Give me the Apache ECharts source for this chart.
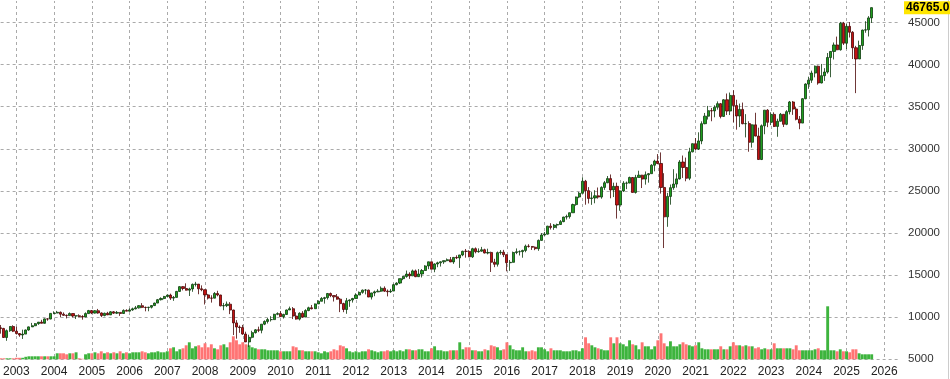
<!DOCTYPE html>
<html>
<head>
<meta charset="utf-8">
<script src="https://cdn.jsdelivr.net/npm/echarts@6/dist/echarts.min.js"></script>
<style>
html,body{margin:0;padding:0;background:#fff;}
#chart{width:950px;height:379px;}
</style>
</head>
<body>
<div id="chart"></div>
<script>
// Monthly candles [open, close, low, high]
const ohlc2002 = [[8736,8664,8044,9077],[8664,7592,7528,8734],[7592,8397,7197,8539],[8397,8896,8259,8932],[8896,8342,8232,9043]];
const ohlc2003 = [[8342,8054,7945,8869],[8054,7891,7673,8109],[7891,7992,7416,8522],[7992,8480,7992,8532],[8480,8850,8394,8898],[8850,8985,8837,9323],[8985,9234,8942,9310],[9234,9416,9094,9428],[9416,9275,9275,9686],[9275,9801,9375,9858],[9801,9782,9579,9872],[9782,10454,9754,10484]];
const ohlc2004 = [[10454,10488,10368,10702],[10488,10584,10499,10753],[10584,10358,9991,10678],[10358,10226,10152,10570],[10226,10188,9852,10318],[10188,10435,10164,10569],[10435,10140,9961,10436],[10140,10174,9784,10219],[10174,10080,9981,10342],[10080,10027,9708,10239],[10027,10428,10028,10572],[10428,10783,10401,10868]];
const ohlc2005 = [[10783,10490,10368,10854],[10490,10766,10431,10842],[10766,10504,10403,10984],[10504,10193,10012,10568],[10193,10467,10109,10542],[10467,10275,10269,10635],[10275,10641,10270,10720],[10641,10482,10397,10719],[10482,10569,10378,10739],[10569,10440,10156,10580],[10440,10806,10406,10932],[10806,10718,10713,10940]];
const ohlc2006 = [[10718,10865,10667,11047],[10865,10993,10766,11137],[10993,11109,10929,11334],[11109,11367,11030,11437],[11367,11168,11083,11670],[11168,11150,10699,11260],[11150,11186,10706,11233],[11186,11381,11036,11416],[11381,11679,11325,11725],[11679,12081,11667,12167],[12081,12222,11987,12361],[12222,12463,12131,12529]];
const ohlc2007 = [[12463,12622,12337,12687],[12622,12269,12050,12795],[12269,12354,11939,12521],[12354,13063,12347,13121],[13063,13628,13024,13692],[13628,13409,13186,13692],[13409,13212,13172,14022],[13212,13358,12518,13498],[13358,13896,13017,14000],[13896,13930,13645,14198],[13930,13372,12725,13930],[13372,13265,13083,13780]];
const ohlc2008 = [[13265,12650,11508,13279],[12650,12266,12107,12766],[12266,12263,11731,12604],[12263,12820,12259,12984],[12820,12638,12478,13136],[12638,11350,11288,12658],[11350,11378,10827,11698],[11378,11544,11202,11867],[11544,10851,10365,11791],[10851,9325,7882,10882],[9325,8829,7449,9654],[8829,8776,8149,9026]];
const ohlc2009 = [[8776,8001,7909,9088],[8001,7063,7053,8280],[7063,7609,6470,7924],[7609,8168,7491,8389],[8168,8500,8057,8588],[8500,8447,8222,8878],[8447,9172,8087,9183],[9172,9496,9058,9630],[9496,9712,9254,9918],[9712,9713,9487,10119],[9713,10345,9678,10406],[10345,10428,10236,10580]];
const ohlc2010 = [[10428,10067,10058,10729],[10067,10325,9835,10414],[10325,10857,10396,10907],[10857,11009,10859,11258],[11009,10137,9775,11205],[10137,9774,9709,10595],[9774,10466,9614,10583],[10466,10015,9937,10720],[10015,10788,10016,10948],[10788,11118,10711,11246],[11118,11006,10930,11451],[11006,11578,11007,11625]];
const ohlc2011 = [[11578,11892,11578,12021],[11892,12226,11892,12391],[12226,12320,11613,12419],[12320,12811,12093,12876],[12811,12570,12381,12929],[12570,12414,11862,12570],[12414,12143,12085,12753],[12143,11614,10604,12284],[11614,10913,10597,11717],[10913,11955,10404,12285],[11955,12046,11231,12108],[12046,12218,11735,12297]];
const ohlc2012 = [[12218,12633,12217,12840],[12633,12952,12633,13056],[12952,13212,12793,13289],[13212,13214,12710,13338],[13214,12393,12391,13280],[12393,12880,12101,12898],[12880,13009,12492,13160],[13009,13091,12977,13330],[13091,13437,13002,13653],[13437,13096,13015,13662],[13096,13026,12471,13290],[13026,13104,12883,13361]];
const ohlc2013 = [[13104,13861,13104,13970],[13861,14054,13784,14149],[14054,14579,13937,14585],[14579,14840,14398,14888],[14840,15116,14687,15542],[15116,14910,14551,15340],[14910,15500,14910,15658],[15500,14810,14760,15658],[14810,15130,14777,15710],[15130,15546,14719,15721],[15546,16086,15516,16174],[16086,16577,15703,16588]];
const ohlc2014 = [[16577,15699,15699,16588],[15699,16322,15340,16398],[16322,16458,15938,16588],[16458,16581,16015,16631],[16581,16717,16334,16735],[16717,16827,16645,16978],[16827,16563,16548,17151],[16563,17098,16333,17153],[17098,17043,16901,17350],[17043,17391,15855,17395],[17391,17828,17243,17895],[17828,17823,17068,18103]];
const ohlc2015 = [[17823,17165,17136,17951],[17165,18133,17038,18244],[18133,17776,17585,18288],[17776,17841,17660,18175],[17841,18011,17785,18351],[18011,17620,17575,18132],[17620,17690,17465,18138],[17690,16528,15370,17784],[16528,16285,15942,16933],[16285,17664,16013,17799],[17664,17720,17421,17978],[17720,17425,17138,17996]];
const ohlc2016 = [[17425,16466,15451,17405],[16466,16517,15503,16795],[16517,17685,16545,17790],[17685,17774,17484,18168],[17774,17787,17331,17934],[17787,17930,17063,18016],[17930,18432,17713,18623],[18432,18401,18263,18668],[18401,18308,17992,18450],[18308,18142,17959,18399],[18142,19124,17884,19225],[19124,19763,19150,19988]];
const ohlc2017 = [[19763,19864,19678,20126],[19864,20812,19831,20851],[20812,20663,20412,21169],[20663,20941,20379,21070],[20941,21009,20553,21113],[21009,21350,20994,21535],[21350,21891,21280,21929],[21891,21948,21600,22179],[21948,22405,21709,22420],[22405,23377,22405,23485],[23377,24272,23242,24328],[24272,24719,24140,24876]];
const ohlc2018 = [[24719,26149,24719,26617],[26149,25029,23360,26307],[25029,24103,23509,25449],[24103,24163,23344,24858],[24163,24416,23531,25087],[24416,24271,24077,25403],[24271,25415,24075,25552],[25415,25965,25124,26167],[25965,26458,25918,26769],[26458,25116,24123,26952],[25116,25538,24268,25980],[25538,23327,21713,25980]];
const ohlc2019 = [[23327,24999,22639,25072],[24999,25916,24883,26156],[25916,25929,25208,26110],[25929,26593,25911,26696],[26593,24815,24815,26646],[24815,26600,24681,26907],[26600,26864,26600,27398],[26864,26403,25340,26918],[26403,26917,25743,27307],[26917,27046,25979,27121],[27046,28051,27046,28174],[28051,28538,27325,28702]];
const ohlc2020 = [[28538,28256,28170,29374],[28256,25409,24681,29569],[25409,21917,18214,27102],[21917,24346,20736,24765],[24346,25383,23361,25759],[25383,25813,25129,27581],[25813,26428,25391,27072],[26428,28430,26344,28659],[28430,27782,26538,29199],[27782,26502,26143,28955],[26502,29638,26277,30117],[29638,30606,29581,30637]];
const ohlc2021 = [[30606,29983,29857,31272],[29983,30932,29856,31961],[30932,32982,30547,33259],[32982,33875,32915,34257],[33875,34529,33474,35091],[34529,34503,33271,34850],[34503,34935,33742,35172],[34935,35361,34652,35631],[35361,33844,33614,35444],[33844,35820,33785,35892],[35820,34484,34018,36566],[34484,36338,34007,36679]];
const ohlc2022 = [[36338,35132,33150,36953],[35132,33893,32272,35824],[33893,34678,32578,35372],[34678,32977,32914,35492],[32977,32990,31354,34117],[32990,30775,29653,33272],[30775,32845,30144,32910],[32845,31510,31480,34281],[31510,28726,28716,32504],[28726,32733,28661,32889],[32733,34590,31728,34595],[34590,33147,32573,34712]];
const ohlc2023 = [[33147,34086,32812,34342],[34086,32657,32580,34335],[32657,33274,31430,33572],[33274,34098,33235,34257],[34098,32908,32587,34104],[32908,34408,32810,34589],[34408,35560,34086,35679],[35560,34722,34029,35679],[34722,33508,33379,34978],[33508,33053,32327,33893],[33053,35951,33053,36025],[35951,37690,35882,37778]];
const ohlc2024 = [[37690,38150,37122,38561],[38150,38996,37824,39283],[38996,39807,38486,39890],[39807,37816,37612,39889],[37816,38686,37774,40077],[38686,39119,38065,39580],[39119,40843,38930,41376],[40843,41563,38499,41585],[41563,42330,40611,42628],[42330,41763,41706,43325],[41763,44911,41660,45071],[44911,42544,42325,45074]];
const ohlc2025 = [[42544,44545,41844,44883],[44545,43841,43222,45054],[43841,42002,40661,43976],[42002,40669,36612,42229],[40669,42270,40669,42842],[42270,44095,41750,44152],[44095,44131,43779,45152],[44131,45545,43340,45758],[45545,46765,44952,46800]];

// Monthly volume (relative units)
const vol2002 = [1,1,1,1,1];
const vol2003 = [1.5,1.5,1.5,2.5,3,3,3,3,3,3,3,3];
const vol2004 = [3,6,6,6,5,6,6,7,1,0.5,5,6];
const vol2005 = [6,7,6,8,6,7,6,7,6,8,6,7];
const vol2006 = [6,7,7,7,8,7,6,7,7,8,7,7];
const vol2007 = [8,11,12,8,10,11,14,17,11,13,14,12];
const vol2008 = [16,12,15,11,10,14,15,12,17,23,19,15];
const vol2009 = [17,15,14,12,11,10,10,10,9,9,9,9];
const vol2010 = [8,8,8,8,13,12,9,9,8,8,8,8];
const vol2011 = [7,6,8,7,8,10,9,14,13,11,8,7];
const vol2012 = [8,7,8,8,10,9,8,7,8,8,9,8];
const vol2013 = [9,8,9,8,10,10,9,9,10,10,8,8];
const vol2014 = [11,13,9,9,8,8,9,9,9,17,10,12];
const vol2015 = [12,9,9,8,8,10,9,14,13,12,9,10];
const vol2016 = [17,14,10,9,9,12,8,8,9,8,12,12];
const vol2017 = [10,8,11,9,9,9,8,8,8,9,9,8];
const vol2018 = [11,22,16,14,12,11,10,9,9,22,16,22];
const vol2019 = [16,15,13,19,15,14,10,17,13,13,10,13];
const vol2020 = [19,26,16,13,18,13,13,15,17,15,14,13];
const vol2021 = [14,17,11,10,10,10,10,10,13,10,10,13];
const vol2022 = [17,14,14,13,14,13,13,11,12,10,11,10];
const vol2023 = [10,16,11,11,11,11,11,10,14,9,9,9];
const vol2024 = [9,9,10,11,9,9,53,9,9,8,10,8];
const vol2025 = [8,7,10,10,6,5,5,5,5];

const lastPrice = 46765.0;
const firstYear = 2002, firstMonth = 8;   // Aug 2002
const lastYear = 2026, lastMonth = 6;     // axis runs to Jun 2026
const yTicks = [5000,10000,15000,20000,25000,30000,35000,40000,45000];

const candles = [].concat(ohlc2002,ohlc2003,ohlc2004,ohlc2005,ohlc2006,ohlc2007,ohlc2008,ohlc2009,ohlc2010,ohlc2011,ohlc2012,ohlc2013,ohlc2014,ohlc2015,ohlc2016,ohlc2017,ohlc2018,ohlc2019,ohlc2020,ohlc2021,ohlc2022,ohlc2023,ohlc2024,ohlc2025);
const volumes = [].concat(vol2002,vol2003,vol2004,vol2005,vol2006,vol2007,vol2008,vol2009,vol2010,vol2011,vol2012,vol2013,vol2014,vol2015,vol2016,vol2017,vol2018,vol2019,vol2020,vol2021,vol2022,vol2023,vol2024,vol2025);

const categories = [];
for (let y = firstYear, m = firstMonth; y < lastYear || (y === lastYear && m <= lastMonth); ) {
  categories.push(y + '-' + (m < 10 ? '0' + m : m));
  m++; if (m > 12) { m = 1; y++; }
}
const candleData = categories.map((c, i) => i < candles.length ? candles[i] : '-');
const volData = categories.map((c, i) => {
  if (i >= volumes.length) return '-';
  const up = candles[i][1] >= candles[i][0];
  return { value: volumes[i], itemStyle: { color: up ? '#3db43d' : '#ff7474' } };
});
const isJan = (idx, val) => /-01$/.test(val);

const chart = echarts.init(document.getElementById('chart'), null, { renderer: 'canvas' });
const font = 'Liberation Sans, Arial, sans-serif';
chart.setOption({
  animation: false,
  backgroundColor: '#ffffff',
  grid: { left: 0, right: 50, top: 0, bottom: 19.7, containLabel: false },
  xAxis: {
    type: 'category',
    data: categories,
    boundaryGap: false,
    axisLine: { show: false },
    axisTick: { show: false },
    axisLabel: {
      interval: isJan,
      formatter: v => v.slice(0, 4),
      color: '#222', fontSize: 12, fontFamily: font, margin: 6
    },
    splitLine: { show: true, interval: isJan, lineStyle: { color: '#aaaaaa', type: [3, 3], width: 1 } }
  },
  yAxis: [{
    type: 'value',
    position: 'right',
    min: 5000, max: 47672, interval: 5000,
    axisLine: { show: false },
    axisTick: { show: false },
    axisLabel: {
      color: '#333', fontSize: 11.5, fontFamily: font, margin: 8,
      showMaxLabel: false,
      formatter: v => yTicks.indexOf(v) >= 0 ? String(v) : ''
    },
    splitLine: { show: true, lineStyle: { color: '#aaaaaa', type: [3, 3], width: 1 } }
  }, {
    type: 'value',
    min: 0, max: 359.3,
    show: false,
    splitLine: { show: false }
  }],
  series: [{
    type: 'bar',
    yAxisIndex: 1,
    data: volData,
    barWidth: '92%',
    z: 1,
    silent: true
  }, {
    type: 'candlestick',
    data: candleData,
    barWidth: 2.6,
    z: 3,
    itemStyle: {
      color: '#1f9e1f', color0: '#c41212',
      borderColor: '#0d3a0d', borderColor0: '#4a0505',
      borderWidth: 0.8
    }
  }, {
    type: 'line',
    data: [],
    silent: true,
    markLine: {
      silent: true,
      symbol: ['none', 'none'],
      lineStyle: { color: 'rgba(255,255,255,0)', width: 1, type: 'solid' },
      data: [{ yAxis: lastPrice }],
      label: {
        show: true, position: 'end', distance: 4,
        formatter: () => lastPrice.toFixed(1),
        backgroundColor: '#ffe600', color: '#000', fontWeight: 'bold',
        fontSize: 12, fontFamily: font, padding: [1, 1, 0, 2]
      }
    }
  }],
  graphic: [{
    type: 'rect', shape: { x: 0, y: 0, width: 900, height: 1 },
    style: { fill: '#ffffff' }, silent: true, z: 100
  }, {
    type: 'line', shape: { x1: 948.5, y1: 0, x2: 948.5, y2: 379 },
    style: { stroke: '#cccccc', lineWidth: 1 }, silent: true
  }]
});
</script>
</body>
</html>
